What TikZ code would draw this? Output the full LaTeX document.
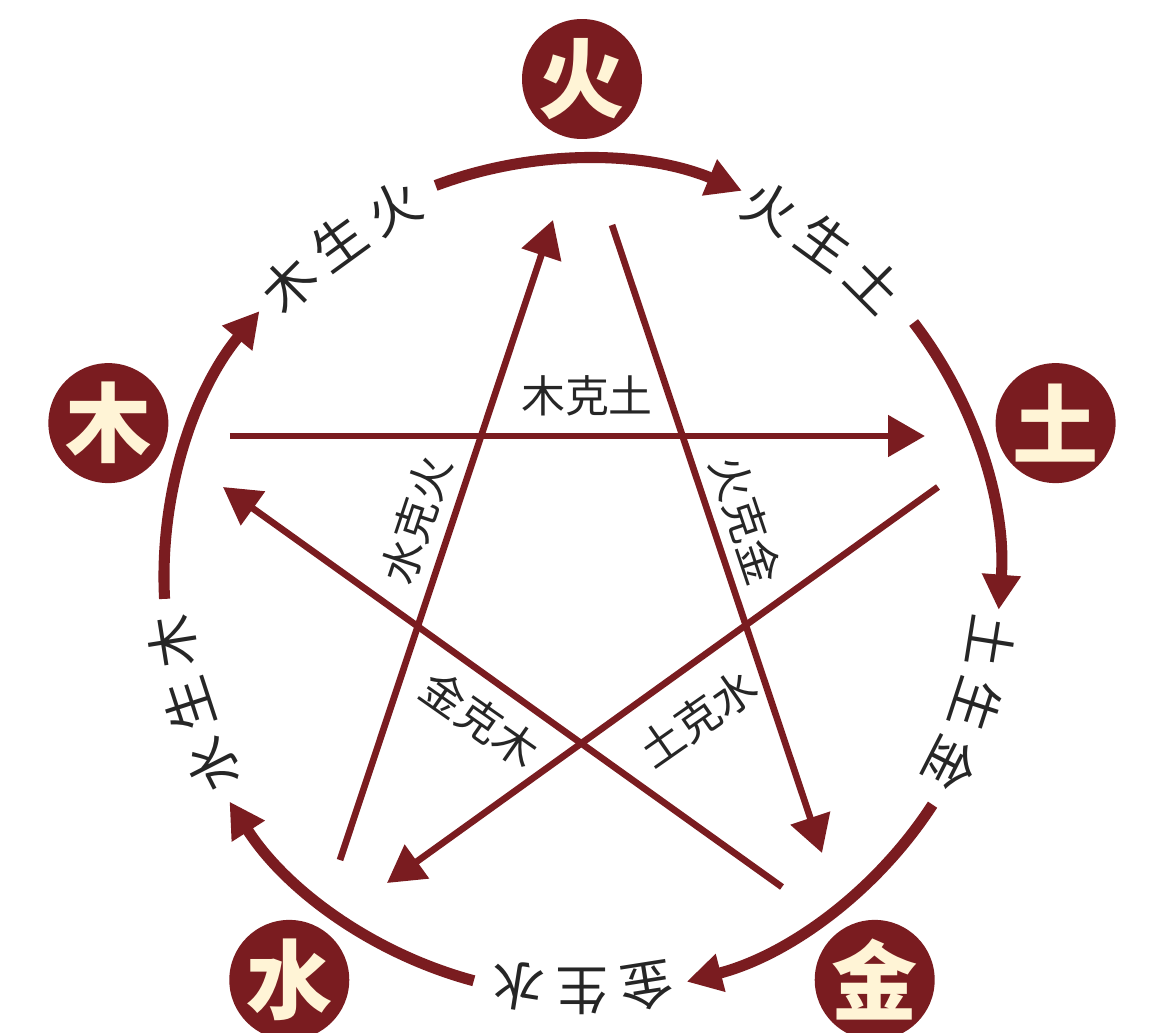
\documentclass[tikz,border=0pt]{standalone}
\usepackage{fontspec}
\setmainfont{Noto Sans CJK SC}
\usetikzlibrary{arrows.meta}
\definecolor{wuxing}{RGB}{122,28,32}
\definecolor{cream}{RGB}{255,244,214}
\tikzset{
ARC/.style ={draw=wuxing,line cap=butt,line width=6.3pt,-{Triangle[length=20pt,width=21pt]}},
KEARC/.style ={draw=wuxing,line cap=butt,line width=3.8pt,-{Triangle[length=21pt,width=23pt]}},
ELEMENT/.style={circle,fill=wuxing,text=cream,minimum size=2.4cm,inner sep=0pt,font=\fontsize{49}{49}\selectfont\bfseries},
SHENG/.style={text=black!85,inner sep=0pt,font=\fontsize{30}{30}\selectfont},
KE/.style={text=black!85,inner sep=0pt,font=\fontsize{25}{25}\selectfont},
}

\begin{document}
\begin{tikzpicture}[x=0.02cm,y=0.02cm] %Wu Xing
	\useasboundingbox (-582,-455) rectangle (588,577);
	\node[ELEMENT] (fire) at (90:498) {火};
	\node[ELEMENT] (earth) at (18:498) {土};
	\node[ELEMENT] (metal) at (-54:498) {金};
	\node[ELEMENT] (water) at (-126:498) {水};
	\node[ELEMENT] (wood) at (162:498) {木};
	% sheng cycle
	\coordinate (fire-s) at (110.5:418);
	\coordinate (earth-s) at (37.5:418);
	\coordinate (metal-s) at (-33:418);
	\coordinate (water-s) at (-105:418);
	\coordinate (wood-s) at (183:418);
	\draw[ARC] (fire-s) arc[start angle=110.5, end angle=67.5, radius=418];
	\draw[ARC] (earth-s) arc[start angle=37.5, end angle=-4.5, radius=418];
	\draw[ARC] (metal-s) arc[start angle=-33, end angle=-75.5, radius=418];
	\draw[ARC] (water-s) arc[start angle=-105, end angle=-147.5, radius=418];
	\draw[ARC] (wood-s) arc[start angle=183, end angle=140.5, radius=418];
	\node[SHENG,rotate=45] (ms1) at (135:414) {木};
	\node[SHENG,rotate=36] (ms2) at (126:414) {生};
	\node[SHENG,rotate=27] (ms3) at (117:414) {火};
	\node[SHENG,rotate=-27] (hs1) at (63:414) {火};
	\node[SHENG,rotate=-36] (hs2) at (54:414) {生};
	\node[SHENG,rotate=-45] (hs3) at (45:414) {土};
	\node[SHENG,rotate=-99] (ts1) at (-9:414) {土};
	\node[SHENG,rotate=-108] (ts2) at (-18:414) {生};
	\node[SHENG,rotate=-117] (ts3) at (-27:414) {金};
	\node[SHENG,rotate=-171] (js1) at (-81:414) {金};
	\node[SHENG,rotate=-180] (js2) at (-90:414) {生};
	\node[SHENG,rotate=-189] (js3) at (-99:414) {水};
	\node[SHENG,rotate=117] (ss1) at (-153:414) {水};
	\node[SHENG,rotate=108] (ss2) at (-162:414) {生};
	\node[SHENG,rotate=99] (ss3) at (-171:414) {木};
	% ke cycle
	\coordinate (wood-k) at (-352,141);
	\coordinate (earth-in) at (343,141);
	\coordinate (earth-k) at (356,90);
	\coordinate (water-in) at (-195,-306);
	\coordinate (water-k) at (-242,-283);
	\coordinate (fire-in) at (-29,357);
	\coordinate (fire-k) at (30,352);
	\coordinate (metal-in) at (240,-276);
	\coordinate (metal-k) at (200,-310);
	\coordinate (wood-in) at (-359,90);
	\draw[KEARC] (wood-k) -- (earth-in);
	\draw[KEARC] (earth-k) -- (water-in);
	\draw[KEARC] (water-k) -- (fire-in);
	\draw[KEARC] (fire-k) -- (metal-in);
	\draw[KEARC] (metal-k) -- (wood-in);
	\node[KE] (mk) at (5,181) {木克土};
	\node[KE,rotate=71.6] (sk) at (-166,57) {水克火};
	\node[KE,rotate=-71.5] (hk) at (164,57) {火克金};
	\node[KE,rotate=-35] (jk) at (-102,-142) {金克木};
	\node[KE,rotate=35] (tk) at (116,-141) {土克水};
\end{tikzpicture}
\end{document}
